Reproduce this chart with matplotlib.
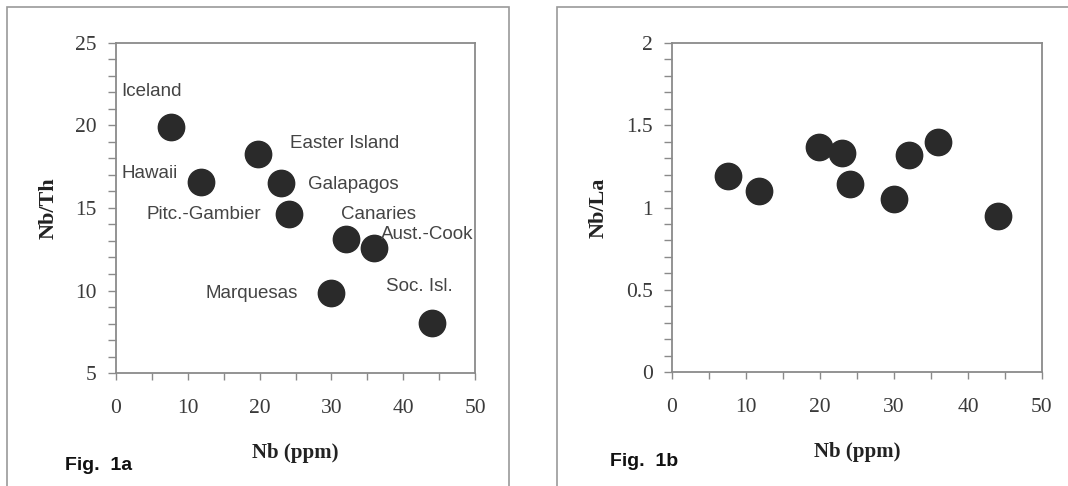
import matplotlib
matplotlib.use("Agg")
import matplotlib.pyplot as plt
from matplotlib.patches import Rectangle
from matplotlib.ticker import MultipleLocator

# data
islands = ["Iceland", "Hawaii", "Easter Island", "Galapagos", "Pitc.-Gambier",
           "Marquesas", "Canaries", "Aust.-Cook", "Soc. Isl."]
nb = [7.6, 11.8, 19.8, 23.0, 24.1, 30.0, 32.0, 35.9, 44.0]
nb_th = [19.9, 16.6, 18.25, 16.5, 14.65, 9.85, 13.1, 12.55, 8.05]
nb_la = [1.19, 1.10, 1.37, 1.33, 1.14, 1.05, 1.32, 1.40, 0.95]

# label anchors (left edge, centre) in data units
lab_x = [0.8, 0.8, 24.2, 26.8, 4.2, 12.5, 31.3, 36.9, 37.6]
lab_y = [22.05, 17.1, 18.9, 16.45, 14.6, 9.8, 14.6, 13.4, 10.25]

W, H = 1068, 486
fig = plt.figure(figsize=(W / 100, H / 100), dpi=100)

serif = "Liberation Serif"
sans = "Liberation Sans"
gray = "#8a8a8a"
dot = "#2a2a2a"

# outer panel frames
fig.patches.append(Rectangle((7 / W, -0.1), (509 - 7) / W, 1.1 - 7 / H,
                             transform=fig.transFigure, fill=False,
                             ec="#9a9a9a", lw=1.2))
fig.patches.append(Rectangle((557 / W, -0.1), 0.6, 1.1 - 7 / H,
                             transform=fig.transFigure, fill=False,
                             ec="#9a9a9a", lw=1.2))


def setup(ax, ymin, ymax, ymaj, ymin_step, ylabel):
    ax.set_xlim(0, 50)
    ax.set_ylim(ymin, ymax)
    ax.xaxis.set_major_locator(MultipleLocator(10))
    ax.xaxis.set_minor_locator(MultipleLocator(5))
    ax.yaxis.set_major_locator(MultipleLocator(ymaj))
    ax.yaxis.set_minor_locator(MultipleLocator(ymin_step))
    for s in ax.spines.values():
        s.set_color(gray)
        s.set_linewidth(1.3)
    ax.tick_params(which="both", direction="out", color=gray, width=1)
    ax.tick_params(axis="y", which="both", length=6, pad=8)
    ax.tick_params(axis="x", which="both", length=5, pad=14)
    ax.set_xlabel("Nb (ppm)", fontfamily=serif, fontweight="bold",
                  fontsize=15, color="#222222", labelpad=18)
    ax.set_ylabel(ylabel, fontfamily=serif, fontweight="bold",
                  fontsize=16, color="#222222", labelpad=12)


def style_ticks(ax):
    for lab in ax.get_xticklabels() + ax.get_yticklabels():
        lab.set_fontfamily(serif)
        lab.set_fontsize(15.5)
        lab.set_color("#3a3a3a")


ax1 = fig.add_axes([116 / W, 1 - 373 / H, (475 - 116) / W, (373 - 43) / H])
ax1.scatter(nb, nb_th, s=360, c=dot, zorder=3)
setup(ax1, 5, 25, 5, 1, "Nb/Th")
style_ticks(ax1)
for name, x, y in zip(islands, lab_x, lab_y):
    ax1.text(x, y, name, fontfamily=sans, fontsize=13.5, color="#444444",
             ha="left", va="center")

ax2 = fig.add_axes([672 / W, 1 - 372 / H, (1042 - 672) / W, (372 - 43) / H])
ax2.scatter(nb, nb_la, s=360, c=dot, zorder=3)
setup(ax2, 0, 2, 0.5, 0.1, "Nb/La")
ax2.set_yticks([0, 0.5, 1, 1.5, 2])
ax2.set_yticklabels(["0", "0.5", "1", "1.5", "2"])
style_ticks(ax2)

fig.text(65 / W, 1 - 465 / H, "Fig.  1a", fontfamily=sans, fontweight="bold",
         fontsize=14, color="#111111", va="center")
fig.text(610 / W, 1 - 461 / H, "Fig.  1b", fontfamily=sans, fontweight="bold",
         fontsize=14, color="#111111", va="center")

fig.savefig("out.png", dpi=100)
